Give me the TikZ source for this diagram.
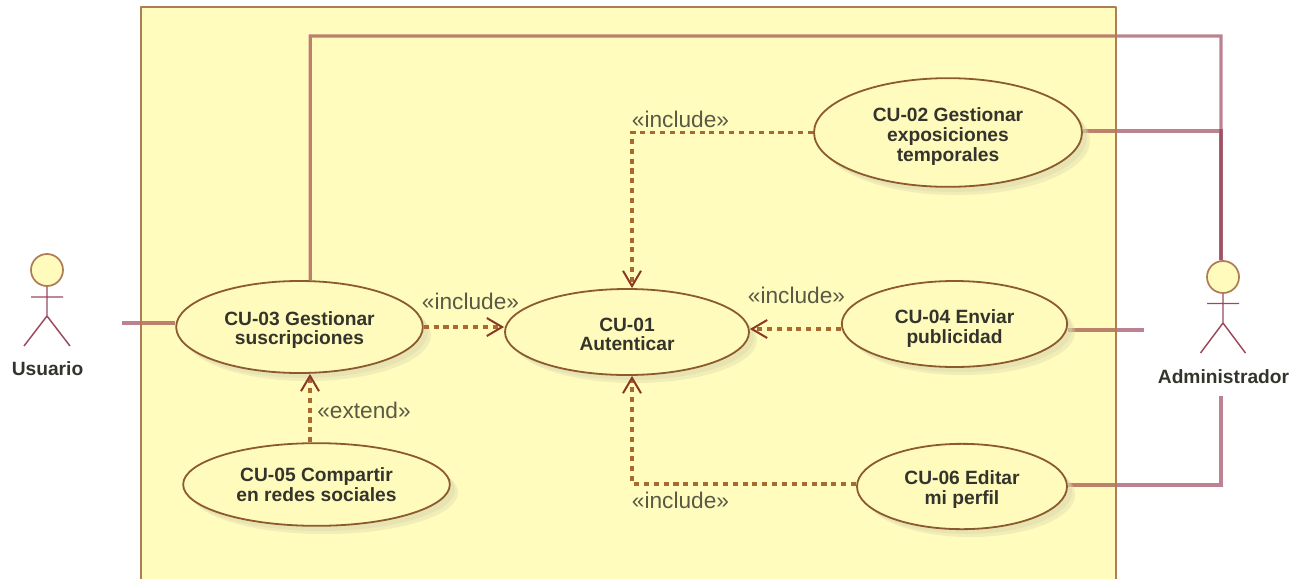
\documentclass[tikz,border=0pt]{standalone}
\usepackage{fontspec}
\setmainfont{Liberation Sans}
\usetikzlibrary{arrows.meta,backgrounds,shapes.geometric}
\pgfdeclarelayer{connlayer}
\pgfdeclarelayer{framelayer}
\pgfdeclarelayer{shadowlayer}
\pgfsetlayers{connlayer,framelayer,shadowlayer,main}
\definecolor{framefill}{HTML}{FFFCBE}
\definecolor{framedraw}{HTML}{AE7C55}
\definecolor{usefill}{HTML}{FFFBBC}
\definecolor{usedraw}{HTML}{8C5A2E}
\definecolor{maroon}{HTML}{8A2A42}
\definecolor{dashc}{HTML}{A86A2E}
\definecolor{tipc}{HTML}{8A3A24}
\definecolor{shadowc}{HTML}{DAD8AC}
\definecolor{boldt}{HTML}{34342C}
\definecolor{labelt}{HTML}{5A5A44}
\newcommand\tdn[1]{\rule{0pt}{\dimexpr 10.4pt+#1pt\relax}}
\tikzset{
  x=0.75pt,y=-0.75pt,
  usecase/.style={shape=ellipse,draw=usedraw,fill=usefill,line width=1.35pt,inner sep=0pt,align=center,
    font=\fontsize{14.4}{14.7}\selectfont\bfseries,text=boldt},
  assoc/.style={draw=maroon,draw opacity=.58,line width=2.5pt,line join=miter},
  dep/.style={draw=dashc,line width=2.4pt,dash pattern=on 3.8pt off 3.6pt,
    -{Straight Barb[length=11.5pt,width=13.5pt,line width=1.5pt,color=tipc]}},
  steretype/.style={font=\fontsize{17}{18}\selectfont,text=labelt,inner sep=0pt},
  actorname/.style={font=\fontsize{14.4}{16}\selectfont\bfseries,text=boldt,inner sep=0pt},
  acthead/.style={circle,draw=framedraw,fill=usefill,line width=1.3pt,minimum size=24pt,inner sep=0pt},
  actbody/.style={draw=maroon,draw opacity=.85,line width=1.1pt},
  shad/.style={fill=shadowc,fill opacity=.4},
}
\begin{document}
\begin{tikzpicture}
\useasboundingbox (0,0) rectangle (1293,579);

% use cases
\node[usecase,minimum width=185pt,minimum height=69pt] (cu03) at (299.5,327) {\tdn{4.5}CU-03 Gestionar\\suscripciones};
\node[usecase,minimum width=183pt,minimum height=64.5pt] (cu01) at (627,332) {\tdn{3}CU-01\\Autenticar};
\node[usecase,minimum width=201pt,minimum height=81.5pt] (cu02) at (948,132.5) {\tdn{6}CU-02 Gestionar\\exposiciones\\temporales};
\node[usecase,minimum width=169pt,minimum height=64.5pt] (cu04) at (954.5,324) {\tdn{7}CU-04 Enviar\\publicidad};
\node[usecase,minimum width=200pt,minimum height=62pt] (cu05) at (316.5,484.5) {\tdn{0.5}CU-05 Compartir\\en redes sociales};
\node[usecase,minimum width=157.5pt,minimum height=64pt] (cu06) at (962,486.5) {\tdn{4.5}CU-06 Editar\\mi perfil};

% actors
\node[acthead] (husr) at (47,270) {};
\node[acthead] (hadm) at (1223,277) {};
\node[actorname] (lusr) at (47.5,369) {Usuario};
\node[actorname] (ladm) at (1223.5,377) {Administrador};
\coordinate (usrhip) at (47,316);
\coordinate (admhip) at (1223,323);
\draw[actbody] (husr.south) -- (usrhip) -- (24,346) (usrhip) -- (70,346) (31,297) -- (63,297);
\draw[actbody] (hadm.south) -- (admhip) -- (1200.5,353) (admhip) -- (1245.5,353) (1207,303.5) -- (1239,303.5);

% labels
\node[steretype] (l1) at (680.5,119) {«include»};
\node[steretype] (l2) at (470.5,301) {«include»};
\node[steretype] (l3) at (796.5,295) {«include»};
\node[steretype] (l4) at (680.5,500) {«include»};
\node[steretype] (l5) at (364,410) {«extend»};

% frame and shadows
\begin{pgfonlayer}{framelayer}
  \fill[framefill,blend mode=multiply] (141,7) rectangle (1116,579);
  \draw[framedraw,line width=2.1pt,line join=round] (141,579) -- (141,7) -- (1116,7) -- (1116,579);
\end{pgfonlayer}
\begin{pgfonlayer}{shadowlayer}
  \foreach \cx/\cy/\rx/\ry in {299.5/327/123.5/46, 627/332/122/43, 948/132.5/134/54.5, 954.5/324/112.5/43, 316.5/484.5/133.5/41.5, 962/486.5/105/42.5}{
    \fill[shad] (\cx+8,\cy+8) ellipse [x radius=\rx,y radius=\ry];
    \fill[shad] (\cx+5,\cy+5) ellipse [x radius=\rx,y radius=\ry];
  }
\end{pgfonlayer}

% helper rows
\coordinate (y323) at (0,323);
\coordinate (y327) at (0,327);
\coordinate (y329) at (0,329);
\coordinate (y330) at (0,330);
\coordinate (y131) at (0,131);
\coordinate (y485) at (0,485);
\coordinate (y484) at (0,484);
\coordinate (x632) at (632,0);
\coordinate (x310) at (310,0);

% associations
\coordinate (usrend) at (122,323);
\coordinate (topc) at (1221,36);
\coordinate (cu04end) at (1144,330);
\coordinate (admlow) at (1221,396);
\begin{pgfonlayer}{connlayer}
  \draw[assoc] (cu03.west |- y323) -- (usrend);
  \draw[assoc] (cu03.77) |- (topc) -- (hadm.97);
  \draw[assoc] (cu02.east |- y131) -| (hadm.97);
  \draw[assoc] (cu04.east |- y330) -- (cu04end);
  \draw[assoc] (cu06.east |- y485) -| (admlow);
\end{pgfonlayer}

% dependencies
\draw[dep] (cu03.east) -- (cu01.west |- y327);
\draw[dep] (cu02.west) -| (x632 |- cu01.north);
\draw[dep] (cu04.west |- y329) -- (cu01.east |- y329);
\draw[dep] (cu06.west |- y484) -| (x632 |- cu01.south);
\draw[dep] (x310 |- cu05.north) -- (x310 |- cu03.south);
\end{tikzpicture}
\end{document}
